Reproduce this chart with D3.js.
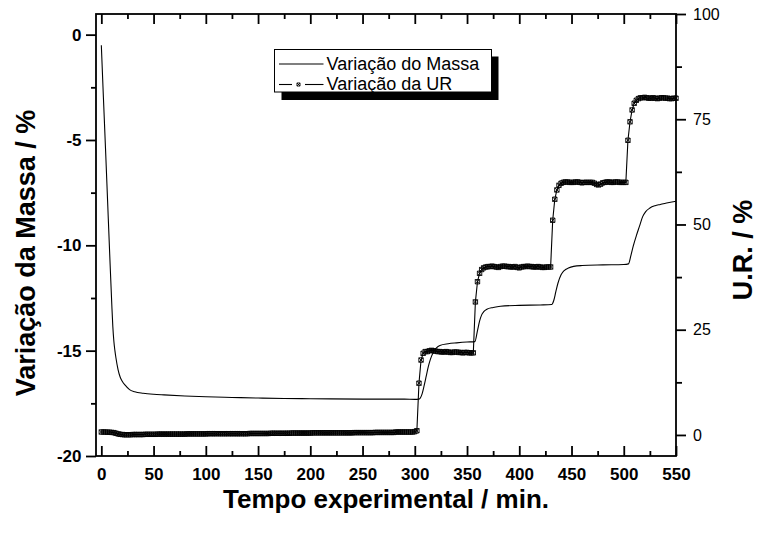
<!DOCTYPE html>
<html>
<head>
<meta charset="utf-8">
<script src="https://cdn.jsdelivr.net/npm/d3@7/dist/d3.min.js"></script>
<style>
  html, body { margin: 0; padding: 0; background: #fff; }
  svg { display: block; }
  text { font-family: "Liberation Sans", Arial, Helvetica, sans-serif; fill: #000; }
</style>
</head>
<body>
<svg id="chart" width="757" height="533"></svg>
<script>
// Mass change (%) vs. time (min)
const massTime = [0, 2, 4, 6, 8, 10, 11, 12, 13, 14,
  16, 18, 20, 23, 27, 32, 40, 50, 60, 80,
  100, 125, 150, 175, 200, 250, 290, 300, 304, 307,
  309, 311, 313, 315, 318, 324, 332, 340, 350, 357.5,
  360, 362, 364, 366, 369, 375, 382, 400, 420, 431,
  433, 435, 437, 440, 443, 447, 452, 460, 480, 500,
  504.5, 507, 509, 512, 515, 518, 521, 525, 530, 535,
  541, 550];
const massValues = [-0.5, -3.0, -5.4, -7.9, -10.4, -12.8, -13.85, -14.55, -15.0, -15.35,
  -15.9, -16.25, -16.45, -16.65, -16.85, -16.95, -17.02, -17.07, -17.1, -17.15,
  -17.19, -17.22, -17.25, -17.27, -17.28, -17.3, -17.3, -17.31, -17.3, -17.05,
  -16.65, -16.2, -15.75, -15.4, -15.05, -14.75, -14.67, -14.63, -14.59, -14.57,
  -14.05, -13.6, -13.3, -13.15, -13.03, -12.95, -12.89, -12.85, -12.83, -12.81,
  -12.62, -12.2, -11.8, -11.4, -11.2, -11.08, -11.0, -10.96, -10.93, -10.91,
  -10.88, -10.45, -10.05, -9.55, -9.1, -8.65, -8.4, -8.23, -8.12, -8.06,
  -7.99, -7.91];

// Relative humidity (%) logged every 2 min from t = 0
const urStart = 0;
const urInterval = 2;
const urValues = [
  0.7, 0.7, 0.7, 0.65, 0.65, 0.6, 0.55, 0.4, 0.25, 0.15, 0.1,                 // 0-20
  0.05, 0.05, 0.05, 0.05, 0.1, 0.1, 0.1, 0.1, 0.1, 0.1,                       // 22-40
  0.15, 0.15, 0.15, 0.15, 0.15, 0.15, 0.2, 0.2, 0.2, 0.2,                     // 42-60
  0.2, 0.2, 0.2, 0.2, 0.2, 0.2, 0.2, 0.2, 0.2, 0.2,                           // 62-80
  0.25, 0.25, 0.25, 0.25, 0.25, 0.25, 0.25, 0.25, 0.25, 0.25,                 // 82-100
  0.3, 0.3, 0.3, 0.3, 0.3, 0.3, 0.3, 0.3, 0.3, 0.3,                           // 102-120
  0.3, 0.3, 0.3, 0.3, 0.3, 0.3, 0.3, 0.3, 0.3, 0.3,                           // 122-140
  0.35, 0.35, 0.35, 0.35, 0.35, 0.35, 0.35, 0.35, 0.35, 0.35,                 // 142-160
  0.4, 0.4, 0.4, 0.4, 0.4, 0.4, 0.4, 0.4, 0.4, 0.4,                           // 162-180
  0.45, 0.45, 0.45, 0.45, 0.45, 0.45, 0.45, 0.45, 0.45, 0.45,                 // 182-200
  0.5, 0.5, 0.5, 0.5, 0.5, 0.5, 0.5, 0.5, 0.5, 0.5,                           // 202-220
  0.5, 0.5, 0.5, 0.5, 0.5, 0.5, 0.5, 0.5, 0.5, 0.5,                           // 222-240
  0.55, 0.55, 0.55, 0.55, 0.55, 0.55, 0.55, 0.55, 0.55, 0.55,                 // 242-260
  0.6, 0.6, 0.6, 0.6, 0.6, 0.6, 0.6, 0.6, 0.6, 0.6,                           // 262-280
  0.7, 0.7, 0.7, 0.7, 0.7, 0.7, 0.7, 0.7, 0.7, 0.8,                           // 282-300
  1.0, 12.3, 17.8, 19.4, 19.8,                                                // 302-310
  19.8, 20.0, 20.1, 20.0, 19.9, 19.8, 19.8, 19.7, 19.7, 19.8,                 // 312-330
  19.7, 19.6, 19.6, 19.7, 19.7, 19.6, 19.6, 19.5, 19.6, 19.6,                 // 332-350
  19.5, 19.5, 19.5,                                                           // 352-356
  31.6, 36.4, 38.4, 39.3, 39.7, 39.9,                                         // 358-368
  40.0, 40.0, 40.1, 40.0, 39.9, 39.8, 40.0, 40.1, 40.1, 40.0,                 // 370-388
  40.0, 39.9, 39.9, 40.0, 39.8, 39.7, 39.9, 40.0, 40.0, 40.1,                 // 390-408
  40.0, 40.0, 39.9, 39.9, 40.0, 39.9, 39.8, 39.8, 39.9, 39.9, 39.9,           // 410-430
  51.0, 56.0, 58.2, 59.3, 59.8,                                               // 432-440
  60.0, 60.1, 60.1, 60.0, 60.0, 60.0, 60.1, 60.1, 60.0, 59.9,                 // 442-460
  60.0, 60.0, 60.0, 60.0, 60.0, 59.8, 59.5, 59.4, 59.6, 59.9,                 // 462-480
  60.0, 60.1, 60.1, 60.0, 60.0, 60.1, 60.1, 60.0, 60.0, 60.0, 60.0,           // 482-502
  70.0, 74.4, 77.2, 78.8, 79.5, 79.9,                                         // 504-514
  80.1, 80.1, 80.2, 80.1, 80.0, 80.0, 80.1, 80.0, 79.9, 80.0,                 // 516-534
  80.1, 80.1, 80.0, 80.0, 79.9, 79.9, 80.0, 80.0                              // 536-550
];

// Axis ticks and text
const xMajor = [0, 50, 100, 150, 200, 250, 300, 350, 400, 450, 500, 550];
const xMinor = [25, 75, 125, 175, 225, 275, 325, 375, 425, 475, 525];
const massMajor = [0, -5, -10, -15, -20];
const massMinor = [-2.5, -7.5, -12.5, -17.5];
const urMajor = [0, 25, 50, 75, 100];
const urMinor = [12.5, 37.5, 62.5, 87.5];
const xTitle = "Tempo experimental / min.";
const massTitle = "Variação da Massa / %";
const urTitle = "U.R. / %";
const legendLabels = ["Variação do Massa", "Variação da UR"];

const svg = d3.select("#chart");
const plot = { left: 96, right: 676, top: 14, bottom: 456 };

const x = d3.scaleLinear().domain([-5.1, 550]).range([plot.left, plot.right]);
const yMass = d3.scaleLinear().domain([-20, 0.98]).range([plot.bottom, plot.top]);
const yUR = d3.scaleLinear().domain([-5, 100]).range([plot.bottom, plot.top]);

const mass = massTime.map((t, i) => ({ t, v: massValues[i] }));
const ur = urValues.map((v, i) => ({ t: urStart + i * urInterval, v }));

const fmt = d => String(d);

function styleAxis(g, fontSize, weight) {
  g.select(".domain").remove();
  g.selectAll(".tick line").attr("stroke", "#000").attr("stroke-width", 1.8);
  g.selectAll(".tick text")
    .style("font-family", "'Liberation Sans', Arial, sans-serif")
    .style("font-size", fontSize + "px")
    .style("font-weight", weight)
    .attr("fill", "#000");
}

// bottom axis: inward ticks with labels
svg.append("g").attr("transform", `translate(0,${plot.bottom})`)
  .call(d3.axisBottom(x).tickValues(xMajor).tickFormat(fmt).tickSizeInner(-10).tickSizeOuter(0).tickPadding(12))
  .call(g => styleAxis(g, 17, "bold"));
svg.append("g").attr("transform", `translate(0,${plot.bottom})`)
  .call(d3.axisBottom(x).tickValues(xMinor).tickFormat("").tickSizeInner(-5).tickSizeOuter(0))
  .call(g => styleAxis(g, 17, "bold"));
// top axis: inward ticks, no labels
svg.append("g").attr("transform", `translate(0,${plot.top})`)
  .call(d3.axisTop(x).tickValues(xMajor).tickFormat("").tickSizeInner(-10).tickSizeOuter(0))
  .call(g => styleAxis(g, 17, "bold"));
svg.append("g").attr("transform", `translate(0,${plot.top})`)
  .call(d3.axisTop(x).tickValues(xMinor).tickFormat("").tickSizeInner(-5).tickSizeOuter(0))
  .call(g => styleAxis(g, 17, "bold"));

// left axis (mass)
svg.append("g").attr("transform", `translate(${plot.left},0)`)
  .call(d3.axisLeft(yMass).tickValues(massMajor).tickFormat(fmt).tickSize(10).tickPadding(4.5))
  .call(g => styleAxis(g, 17, "bold"));
svg.append("g").attr("transform", `translate(${plot.left},0)`)
  .call(d3.axisLeft(yMass).tickValues(massMinor).tickFormat("").tickSize(5))
  .call(g => styleAxis(g, 17, "bold"));

// right axis (relative humidity)
svg.append("g").attr("transform", `translate(${plot.right},0)`)
  .call(d3.axisRight(yUR).tickValues(urMajor).tickFormat(fmt).tickSize(10).tickPadding(7))
  .call(g => styleAxis(g, 16, "normal"));
svg.append("g").attr("transform", `translate(${plot.right},0)`)
  .call(d3.axisRight(yUR).tickValues(urMinor).tickFormat("").tickSize(6))
  .call(g => styleAxis(g, 16, "normal"));

// frame
svg.append("rect")
  .attr("x", plot.left).attr("y", plot.top)
  .attr("width", plot.right - plot.left).attr("height", plot.bottom - plot.top)
  .attr("fill", "none").attr("stroke", "#000").attr("stroke-width", 1.8);

// mass curve
const massLine = d3.line().x(d => x(d.t)).y(d => yMass(d.v)).curve(d3.curveMonotoneX);
svg.append("path").datum(mass)
  .attr("d", massLine)
  .attr("fill", "none").attr("stroke", "#000").attr("stroke-width", 1.1);

// humidity line with markers
const urLine = d3.line().x(d => x(d.t)).y(d => yUR(d.v));
svg.append("path").datum(ur)
  .attr("d", urLine)
  .attr("fill", "none").attr("stroke", "#000").attr("stroke-width", 1.1);

const markerPath = "M-2.2,-2.2L2.2,2.2M-2.2,2.2L2.2,-2.2M-2.2,-2.2H2.2V2.2H-2.2Z";
svg.append("g").selectAll("path").data(ur).join("path")
  .attr("transform", d => `translate(${x(d.t)},${yUR(d.v)})`)
  .attr("d", markerPath)
  .attr("fill", "none").attr("stroke", "#000").attr("stroke-width", 0.9);

// axis titles
svg.append("text")
  .attr("transform", "translate(35,253) rotate(-90)")
  .attr("text-anchor", "middle")
  .style("font-size", "27px").style("font-weight", "bold")
  .text(massTitle);
svg.append("text")
  .attr("transform", "translate(752,250) rotate(-90)")
  .attr("text-anchor", "middle")
  .style("font-size", "27px").style("font-weight", "bold")
  .text(urTitle);
svg.append("text")
  .attr("x", 386).attr("y", 507.5)
  .attr("text-anchor", "middle")
  .style("font-size", "26px").style("font-weight", "bold")
  .text(xTitle);

// legend with drop shadow
const legend = svg.append("g");
legend.append("rect").attr("x", 281.5).attr("y", 56.5).attr("width", 217).attr("height", 43.5).attr("fill", "#000");
legend.append("rect").attr("x", 274.5).attr("y", 49.5).attr("width", 217).attr("height", 42.5)
  .attr("fill", "#fff").attr("stroke", "#000").attr("stroke-width", 1);
legend.append("line").attr("x1", 279).attr("x2", 323.5).attr("y1", 64).attr("y2", 64)
  .attr("stroke", "#000").attr("stroke-width", 1.1);
legend.append("line").attr("x1", 279).attr("x2", 292).attr("y1", 84.5).attr("y2", 84.5)
  .attr("stroke", "#000").attr("stroke-width", 1.1);
legend.append("line").attr("x1", 305).attr("x2", 323.5).attr("y1", 84.5).attr("y2", 84.5)
  .attr("stroke", "#000").attr("stroke-width", 1.1);
legend.append("path").attr("transform", "translate(298.5,84.5) scale(0.7)").attr("d", markerPath)
  .attr("fill", "none").attr("stroke", "#000").attr("stroke-width", 1.2);
legend.selectAll("text.lg").data(legendLabels).join("text")
  .attr("class", "lg")
  .attr("x", 326.5).attr("y", (d, i) => 69.5 + i * 20.8)
  .style("font-size", "18px")
  .text(d => d);
</script>
</body>
</html>
